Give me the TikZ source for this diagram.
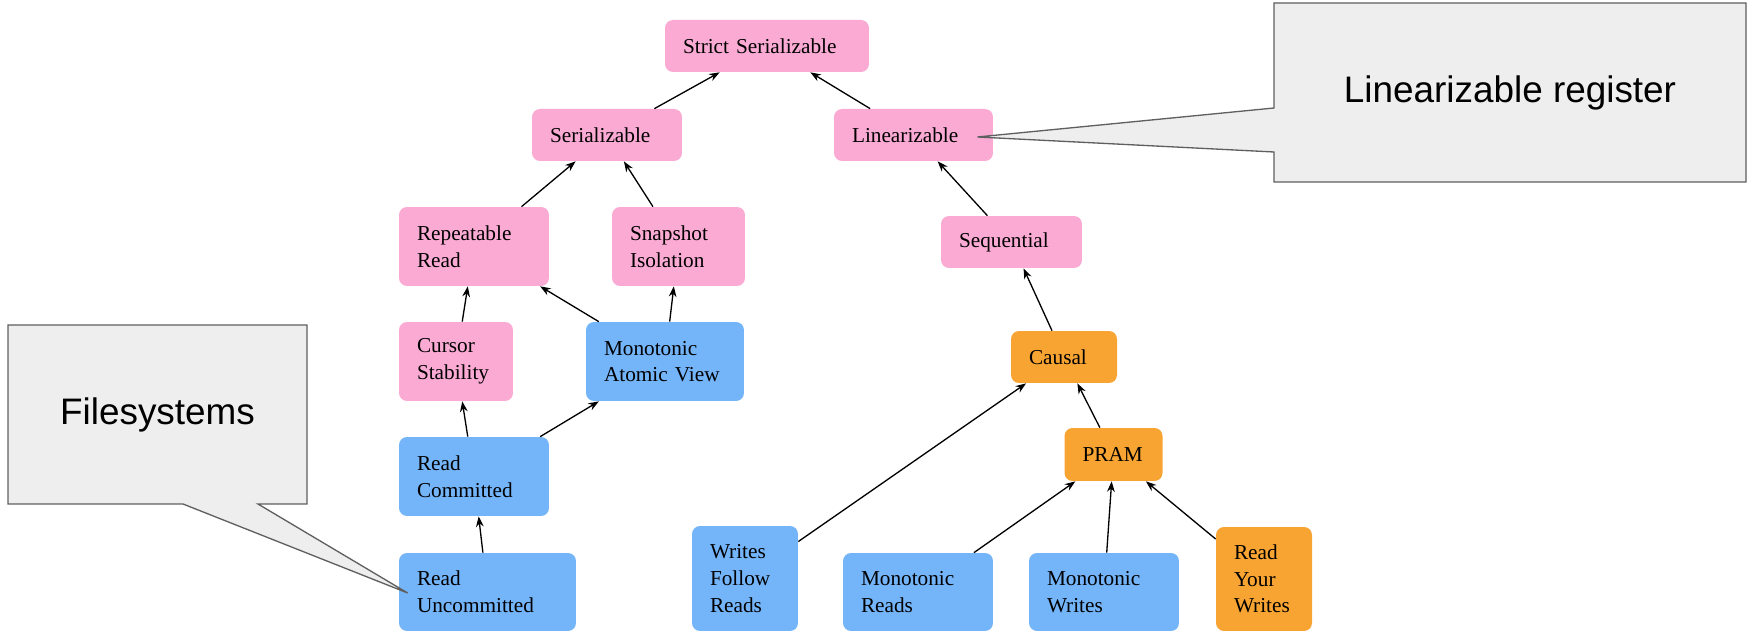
\documentclass[tikz,border=0pt]{standalone}
\usepackage{fontspec}
\setmainfont{Liberation Serif}
\setsansfont{Liberation Sans}
\usepackage{xcolor}
\usetikzlibrary{arrows.meta, calc}

\definecolor{pinkfill}{RGB}{250,170,211}
\definecolor{bluefill}{RGB}{116,180,249}
\definecolor{orangefill}{RGB}{248,164,50}
\definecolor{notefill}{RGB}{238,238,238}
\definecolor{noteline}{RGB}{95,95,95}

\begin{document}
\begin{tikzpicture}[x=0.02cm, y=-0.02cm,
  iso/.style={rounded corners=0.16cm, inner xsep=0.36cm, inner ysep=0pt,
              align=left, minimum height=1.04cm,
              font=\fontsize{12.1}{15.2}\selectfont},
  pnk/.style={iso, fill=pinkfill},
  blu/.style={iso, fill=bluefill},
  orn/.style={iso, fill=orangefill},
  link/.style={-{Stealth[length=6pt, width=4.4pt]}, line width=0.75pt},
  note/.style={fill=notefill, draw=noteline, line width=0.75pt},
  notetext/.style={font=\sffamily\fontsize{21}{25}\selectfont},
]
  \useasboundingbox (0,0) rectangle (1752,634);

  % === Models ===
  \node[pnk, text width=3.36cm] (strict) at (767,46) {Strict Serializable};
  \node[pnk, text width=2.28cm] (ser) at (607,135) {Serializable};
  \node[pnk, text width=2.46cm] (lin) at (913.5,135) {Linearizable};

  \node[pnk, text width=2.28cm, minimum height=1.58cm] (rr) at (474,246.5)
    {Repeatable\\Read};
  \node[pnk, text width=1.94cm, minimum height=1.58cm] (si) at (678.5,246.5)
    {Snapshot\\Isolation};
  \node[pnk, text width=2.10cm] (seq) at (1011.5,242) {Sequential};

  \node[pnk, text width=1.56cm, minimum height=1.58cm] (cs) at (456,361.5)
    {Cursor\\Stability};
  \node[blu, text width=2.44cm, minimum height=1.58cm] (mav) at (665,361.5)
    {Monotonic\\Atomic View};
  \node[orn, text width=1.40cm] (causal) at (1064,357) {Causal};

  \node[blu, text width=2.28cm, minimum height=1.58cm] (rc) at (474,476.5)
    {Read\\Committed};
  \node[orn, text width=1.24cm, minimum height=1.06cm] (pram) at (1113.5,454.5)
    {PRAM};

  % bottom row
  \node[blu, text width=2.82cm, minimum height=1.56cm] (ru) at (487.5,592)
    {Read\\Uncommitted};
  \node[blu, text width=1.40cm, minimum height=2.1cm] (wfr) at (745,578.5)
    {Writes\\Follow\\Reads};
  \node[blu, text width=2.28cm, minimum height=1.56cm] (mr) at (918,592)
    {Monotonic\\Reads};
  \node[blu, text width=2.28cm, minimum height=1.56cm] (mw) at (1104,592)
    {Monotonic\\Writes};
  \node[orn, text width=1.20cm, minimum height=2.08cm] (ryw) at (1264,579)
    {Read\\Your\\Writes};

  % === Implications ===
  \foreach \a/\b in {ser/strict, lin/strict, rr/ser, si/ser, seq/lin,
                     cs/rr, mav/rr, mav/si, rc/cs, rc/mav, ru/rc,
                     causal/seq, wfr/causal, pram/causal,
                     mr/pram, mw/pram, ryw/pram}
    \draw[link] (\a) -- (\b);

  % === Callouts ===
  \filldraw[note] (8,325) -- (307,325) -- (307,504) -- (258,504)
    -- ($(ru.west)+(9,1)$) -- (183,504) -- (8,504) -- cycle;
  \node[notetext] (fsnote) at (157.5,414.5) {Filesystems};

  \filldraw[note] (1274,3) -- (1746,3) -- (1746,182) -- (1274,182)
    -- (1274,152) -- ($(lin.east)+(-16,2)$) -- (1274,108) -- cycle;
  \node[notetext] (linnote) at (1510,92.5) {Linearizable register};

\end{tikzpicture}
\end{document}
